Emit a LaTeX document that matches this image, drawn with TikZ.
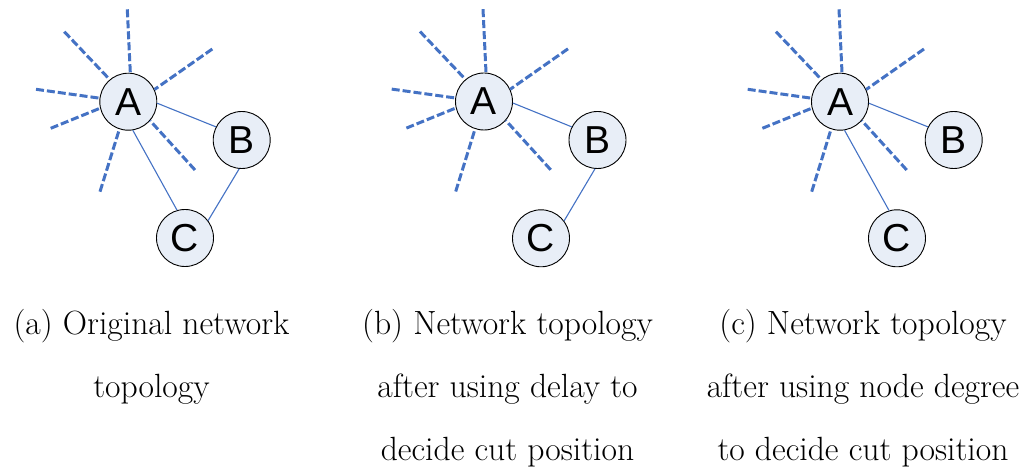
\documentclass[tikz,border=0pt]{standalone}
\usepackage{fontspec}
\newfontfamily\nodefont{Liberation Sans}
\definecolor{linkblue}{RGB}{68,114,196}
\definecolor{nodefill}{RGB}{232,238,247}

% dashed links leaving a hub node: inner anchor angle / outer offset
\newcommand\hubrays[1]{%
  \foreach \ia/\dx/\dy [count=\k] in {86.6/-1/-92.4, 130.5/-64/-70, 25.1/84/-52.7,
      173.3/-92.3/-12.4, 193.1/-77.6/26.6, -41.4/66.7/68.3, -108.7/-28.3/90}{
    \coordinate (#1r\k) at ([shift={(\dx,\dy)}]#1.center);
    \draw[cutlink] (#1r\k) -- (#1.\ia);
  }}

\begin{document}
\begin{tikzpicture}[x=1pt,y=-1pt,
  host/.style={circle,draw=black,line width=0.9pt,fill=nodefill,minimum size=57pt,
    inner sep=0pt,font=\nodefont\fontsize{39}{39}\selectfont},
  cutlink/.style={draw=linkblue,line width=3pt,dash pattern=on 8pt off 3pt},
  link/.style={draw=linkblue,line width=1.1pt},
  caption/.style={align=center,anchor=base,inner sep=0pt,font=\fontsize{33.6}{63}\selectfont}]
\useasboundingbox (0,0) rectangle (1031,470);

% (a) original topology
\node[host] (aA) at (128.3,101.7) {A};
\node[host] (aB) at (241.7,140) {B};
\node[host] (aC) at (185,238) {C};
\hubrays{aA}
\draw[link] (aA.-3.2) -- (aB.153.5);
\draw[link] (aA.-81.4) -- (aC.106.9);
\draw[link] (aB.-95.1) -- (aC.37.7);

% (b) cut chosen by delay
\node[host] (bA) at (484,101.5) {A};
\node[host] (bB) at (597.5,140) {B};
\node[host] (bC) at (541,238.3) {C};
\hubrays{bA}
\draw[link] (bA.-3.2) -- (bB.153.5);
\draw[link] (bB.-95.1) -- (bC.37.7);

% (c) cut chosen by node degree
\node[host] (cA) at (840,101.7) {A};
\node[host] (cB) at (953.7,140) {B};
\node[host] (cC) at (897,238.3) {C};
\hubrays{cA}
\draw[link] (cA.-3.2) -- (cB.153.5);
\draw[link] (cA.-81.4) -- (cC.106.9);

% captions (anchored at the baseline of their last line)
\node[caption] (capa) at (151.5,397.5) {(a) Original network\\topology};
\node[caption] (capb) at (507.5,460) {(b) Network topology\\after using delay to\\decide cut position};
\node[caption] (capc) at (863,460) {(c) Network topology\\after using node degree\\to decide cut position};
\end{tikzpicture}
\end{document}
